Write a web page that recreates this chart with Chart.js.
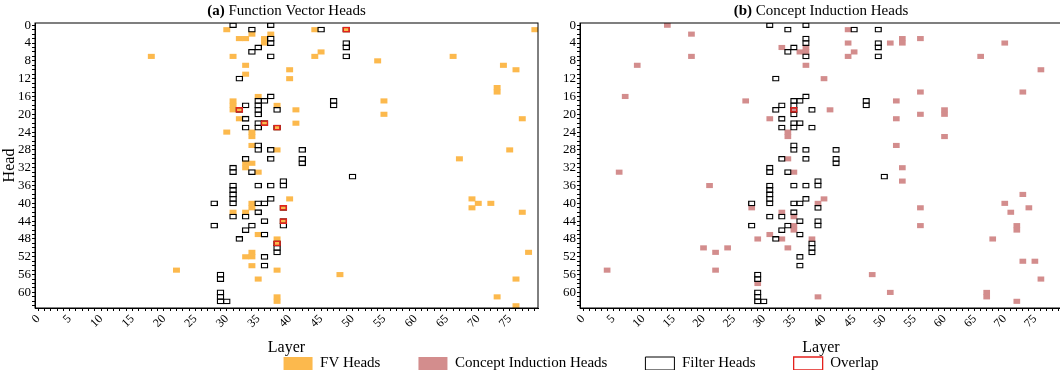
<!DOCTYPE html>
<html>
<head>
<meta charset="utf-8">
<script src="https://cdn.jsdelivr.net/npm/chart.js@4.4.1/dist/chart.umd.min.js"></script>
<style>
  html, body { margin: 0; padding: 0; background: #fff; width: 1060px; height: 370px; overflow: hidden; }
  .box { position: absolute; }
</style>
</head>
<body>
<div class="box" style="left:0;top:0;width:548px;height:370px"><canvas id="fvChart"></canvas></div>
<div class="box" style="left:545px;top:0;width:527px;height:370px"><canvas id="ciChart"></canvas></div>
<div class="box" style="left:51px;top:318px;width:1060px;height:150px"><canvas id="legendChart"></canvas></div>
<script>
// cells are [layer, head]
const fvHeads = [
  [18,7],[22,55],
  [30,1],[34,2],[37,2],[32,3],[33,3],[36,3],[36,4],[31,7],[33,9],[33,11],[40,10],[40,12],
  [35,16],[31,17],[31,18],[31,19],[38,18],[41,19],[41,22],[32,21],[30,24],[34,24],[34,25],[34,27],[38,28],
  [33,31],[34,31],[33,32],[35,33],[40,39],[34,40],[34,41],[31,42],[33,42],[35,47],[38,48],
  [34,51],[33,52],[34,52],[34,54],[38,55],[35,57],[38,61],[38,62],
  [44,1],[79,1],[45,6],[44,7],[66,7],[54,8],[74,9],[76,10],[73,14],[73,15],[55,17],[55,20],[77,21],[75,28],[67,30],
  [69,39],[70,40],[72,40],[69,41],[77,42],[78,51],[48,56],[76,57],[73,61],[76,63],
  [49,1],[32,19],[36,22],[38,23],[39,41],[39,44],[38,49]
];

const conceptHeads = [
  [14,0],[18,2],[18,7],[9,9],[7,16],[6,33],[21,36],[20,50],[24,50],[22,51],[4,55],[22,55],
  [33,5],[37,5],[36,6],[37,6],[37,9],[40,12],[27,17],[35,19],[41,19],[31,21],[34,24],[34,25],[34,30],
  [35,33],[40,39],[39,40],[28,41],[33,42],[35,43],[35,45],[35,46],[31,47],[29,48],[33,48],[38,48],[34,50],[29,58],[39,61],
  [44,1],[53,3],[56,3],[44,4],[51,4],[53,4],[70,4],[45,6],[44,7],[66,7],[76,10],[56,15],[73,15],[52,17],
  [60,19],[56,20],[60,20],[52,21],[60,25],[52,27],
  [53,32],[53,35],[73,38],[70,40],[56,41],[74,41],[71,42],[56,45],[72,45],[72,46],[68,48],
  [73,53],[75,53],[48,56],[76,57],[51,60],[67,60],[67,61],[72,62]
];

const filterHeads = [
  [31,0],[37,0],[34,1],[45,1],[49,1],[37,3],[37,4],[49,4],[35,5],[49,5],[34,6],[37,7],[49,7],[32,12],
  [37,16],[35,17],[36,17],[47,17],[33,18],[35,18],[47,18],[32,19],[35,19],[38,19],[35,20],
  [33,21],[35,22],[36,22],[33,23],[35,23],[38,23],
  [35,27],[35,28],[37,28],[42,28],[33,30],[37,30],[42,30],[42,31],
  [31,32],[31,33],[34,33],[50,34],[39,35],[31,36],[35,36],[37,36],[39,36],
  [31,37],[31,38],[31,39],[37,39],[28,40],[31,40],[35,40],[36,40],[39,41],
  [35,42],[31,43],[33,43],[36,44],[39,44],[28,45],[34,45],[39,45],[33,46],[36,47],[32,48],
  [38,49],[38,50],[38,51],[36,52],[36,54],[29,56],[29,57],[29,60],[29,61],[29,62],[30,62]
];

const fvOverlap = [[49,1],[32,19],[36,22],[38,23],[39,41],[39,44],[38,49]];
const conceptOverlap = [[35,19]];

const layerTickLabels = [0,5,10,15,20,25,30,35,40,45,50,55,60,65,70,75];
const headTickLabels = [0,4,8,12,16,20,24,28,32,36,40,44,48,52,56,60];
const NUM_LAYERS = 80;
const NUM_HEADS = 64;

const FV_COLOR = '#FCB94D';
const CI_COLOR = '#D38D8D';
const FILTER_COLOR = '#000000';
const OVERLAP_COLOR = '#E3211C';
const SERIF = '"Liberation Serif", "Times New Roman", serif';

// turn [layer, head] into a floating bar one head tall
function toBars(cells, grow) {
  return cells.map(([l, h]) => ({ x: l, y: [h - 0.5 - grow, h + 0.5 + grow] }));
}

function allTicks(n) {
  const t = [];
  for (let i = 0; i < n; i++) t.push({ value: i });
  return t;
}

// black frame round the plot area
const frame = {
  id: 'frame',
  afterDatasetsDraw(chart) {
    const a = chart.chartArea;
    const ctx = chart.ctx;
    ctx.save();
    ctx.strokeStyle = '#000';
    ctx.lineWidth = 1;
    ctx.strokeRect(a.left, a.top, a.right - a.left, a.bottom - a.top);
    ctx.restore();
  }
};

// title with bold tag, e.g. "(a)" + normal text
const panelTitle = {
  id: 'panelTitle',
  afterDraw(chart, args, opts) {
    if (!opts || !opts.text) return;
    const ctx = chart.ctx;
    const a = chart.chartArea;
    ctx.save();
    ctx.fillStyle = '#000';
    ctx.textBaseline = 'middle';
    ctx.textAlign = 'left';
    ctx.font = 'bold 15px ' + SERIF;
    const w1 = ctx.measureText(opts.tag).width;
    ctx.font = '15px ' + SERIF;
    const rest = ' ' + opts.text;
    const w2 = ctx.measureText(rest).width;
    const x0 = (a.left + a.right) / 2 - (w1 + w2) / 2;
    ctx.font = 'bold 15px ' + SERIF;
    ctx.fillText(opts.tag, x0, 11);
    ctx.font = '15px ' + SERIF;
    ctx.fillText(rest, x0 + w1, 11);
    ctx.restore();
  }
};

function buildPanel(id, fillCells, fillColor, fillLabel, overlapCells, cellW, headTitle, tag, text) {
  const ctx = document.getElementById(id);
  new Chart(ctx, {
    type: 'bar',
    data: {
      datasets: [
        {
          label: fillLabel,
          data: toBars(fillCells, 0),
          backgroundColor: fillColor,
          borderWidth: 0,
          barThickness: cellW,
          grouped: false,
          order: 3
        },
        {
          label: 'Filter Heads',
          data: toBars(filterHeads, 0.15),
          backgroundColor: 'rgba(0,0,0,0)',
          borderColor: FILTER_COLOR,
          borderWidth: 1.3,
          borderSkipped: false,
          inflateAmount: 0,
          barThickness: cellW + 1.3,
          grouped: false,
          order: 2
        },
        {
          label: 'Overlap',
          data: toBars(overlapCells, 0.15),
          backgroundColor: 'rgba(0,0,0,0)',
          borderColor: OVERLAP_COLOR,
          borderWidth: 1.5,
          borderSkipped: false,
          inflateAmount: 0,
          barThickness: cellW + 1.3,
          grouped: false,
          order: 1
        }
      ]
    },
    options: {
      responsive: true,
      maintainAspectRatio: false,
      animation: false,
      layout: { padding: { top: 23, bottom: 9, left: 0, right: 10 } },
      scales: {
        x: {
          type: 'linear',
          min: -0.5,
          max: NUM_LAYERS - 0.5,
          bounds: 'data',
          offset: false,
          afterBuildTicks: (s) => { s.ticks = allTicks(NUM_LAYERS); },
          afterFit: (s) => { s.height = 53; },
          ticks: {
            autoSkip: false,
            minRotation: 45,
            maxRotation: 45,
            padding: 1,
            color: '#000',
            font: { family: SERIF, size: 12 },
            callback: (v) => layerTickLabels.includes(v) ? String(v) : ''
          },
          grid: { display: true, drawOnChartArea: false, offset: false, tickLength: 3, tickColor: '#000', tickWidth: 1 },
          border: { display: true, color: '#000', width: 1 },
          title: { display: true, text: 'Layer', color: '#000', font: { family: SERIF, size: 16 }, padding: { top: 0, bottom: 4 } }
        },
        y: {
          type: 'linear',
          min: -0.5,
          max: NUM_HEADS - 0.5,
          reverse: true,
          bounds: 'data',
          afterBuildTicks: (s) => { s.ticks = allTicks(NUM_HEADS); },
          afterFit: (s) => { s.width = 35; },
          ticks: {
            autoSkip: false,
            padding: 1,
            color: '#000',
            font: { family: SERIF, size: 13 },
            callback: (v) => headTickLabels.includes(v) ? String(v) : ''
          },
          grid: { display: true, drawOnChartArea: false, tickLength: 3, tickColor: '#000', tickWidth: 1 },
          border: { display: true, color: '#000', width: 1 },
          title: { display: headTitle, text: 'Head', color: '#000', font: { family: SERIF, size: 16 }, padding: { top: 0, bottom: 0 } }
        }
      },
      plugins: {
        legend: { display: false },
        tooltip: { enabled: false },
        panelTitle: { tag: tag, text: text }
      }
    },
    plugins: [frame, panelTitle]
  });
}

buildPanel('fvChart', fvHeads, FV_COLOR, 'FV Heads', fvOverlap, 503 / NUM_LAYERS, true, '(a)', 'Function Vector Heads');
buildPanel('ciChart', conceptHeads, CI_COLOR, 'Concept Induction Heads', conceptOverlap, 482.6 / NUM_LAYERS, false, '(b)', 'Concept Induction Heads');

// shared legend at the bottom
new Chart(document.getElementById('legendChart'), {
  type: 'bar',
  data: {
    labels: [],
    datasets: [
      { label: 'FV Heads', data: [], backgroundColor: FV_COLOR, borderColor: FV_COLOR, borderWidth: 0 },
      { label: 'Concept Induction Heads', data: [], backgroundColor: CI_COLOR, borderColor: CI_COLOR, borderWidth: 0 },
      { label: 'Filter Heads', data: [], backgroundColor: '#fff', borderColor: FILTER_COLOR, borderWidth: 1 },
      { label: 'Overlap', data: [], backgroundColor: '#fff', borderColor: OVERLAP_COLOR, borderWidth: 1.3 }
    ]
  },
  options: {
    responsive: true,
    maintainAspectRatio: false,
    animation: false,
    layout: { padding: 0 },
    scales: { x: { display: false }, y: { display: false } },
    plugins: {
      tooltip: { enabled: false },
      legend: {
        display: true,
        position: 'top',
        align: 'center',
        maxHeight: 80,
        labels: {
          boxWidth: 29,
          boxHeight: 13,
          padding: 38,
          color: '#000',
          font: { family: SERIF, size: 15 }
        }
      }
    }
  }
});
</script>
</body>
</html>
